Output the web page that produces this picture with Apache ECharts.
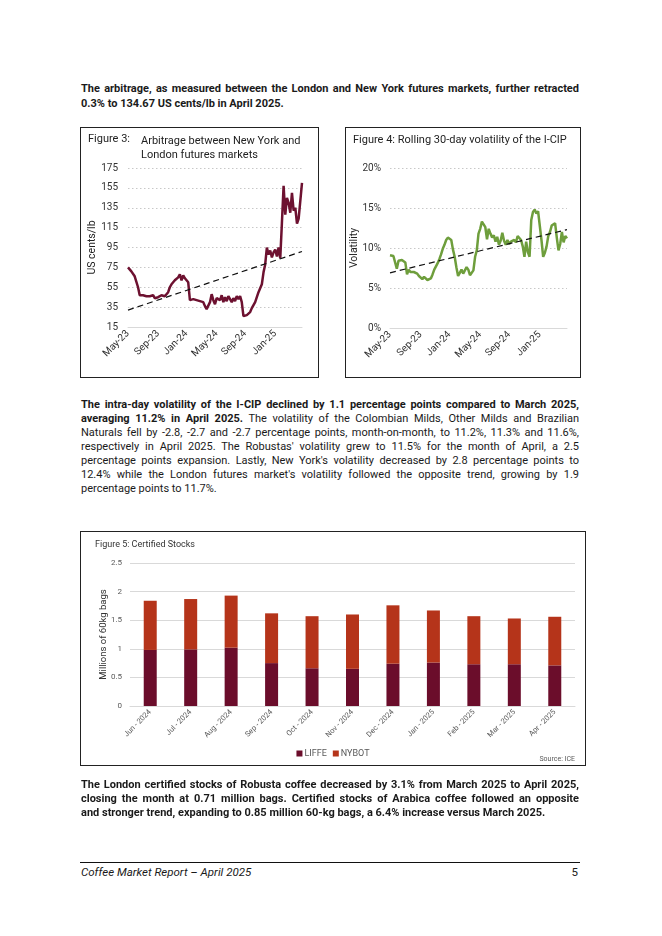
<!DOCTYPE html>
<html><head><meta charset="utf-8">
<script src="https://cdn.jsdelivr.net/npm/echarts@6/dist/echarts.min.js"></script>
<style>
html,body{margin:0;padding:0;background:#fff;}
#page{position:relative;width:662px;height:936px;overflow:hidden;font-family:Roboto,'Noto Sans',sans-serif;color:#1a1a1a;}
.para{position:absolute;left:81px;width:498px;font-size:11px;}
.ln{display:block;white-space:pre;}
.ln > span{display:inline-block;transform-origin:0 50%;}
b{font-weight:700}
.box{position:absolute;border:1px solid #222;box-sizing:border-box;pointer-events:none;}
.chart{position:absolute;}
#footrule{position:absolute;left:80px;top:862px;width:500px;height:1px;background:#111;}
#foot{position:absolute;left:81px;top:865px;width:494px;font-size:11.5px;font-style:italic;line-height:14px;}
#pnum{position:absolute;right:84px;top:865px;font-size:11.5px;line-height:14px;}
</style></head>
<body><div id="page">
<div class="para" style="top:81px;line-height:15px;">
<div class="ln j"><span><b>The arbitrage, as measured between the London and New York futures markets, further retracted</b></span></div>
<div class="ln"><span><b>0.3% to 134.67 US cents/lb in April 2025.</b></span></div>
</div>

<div class="chart" id="fig3" style="left:80px;top:127px;width:239px;height:251px;"></div>
<div class="box" style="left:80px;top:127px;width:239px;height:251px;"></div>
<div class="chart" id="fig4" style="left:345px;top:127px;width:236px;height:251px;"></div>
<div class="box" style="left:345px;top:127px;width:236px;height:251px;"></div>

<div class="para" style="top:398px;line-height:14px;">
<div class="ln j"><span><b>The intra-day volatility of the I-CIP declined by 1.1 percentage points compared to March 2025,</b></span></div>
<div class="ln j"><span><b>averaging 11.2% in April 2025.</b> The volatility of the Colombian Milds, Other Milds and Brazilian</span></div>
<div class="ln j"><span>Naturals fell by -2.8, -2.7 and -2.7 percentage points, month-on-month, to 11.2%, 11.3% and 11.6%,</span></div>
<div class="ln j"><span>respectively in April 2025. The Robustas' volatility grew to 11.5% for the month of April, a 2.5</span></div>
<div class="ln j"><span>percentage points expansion. Lastly, New York's volatility decreased by 2.8 percentage points to</span></div>
<div class="ln j"><span>12.4% while the London futures market's volatility followed the opposite trend, growing by 1.9</span></div>
<div class="ln"><span>percentage points to 11.7%.</span></div>
</div>

<div class="chart" id="fig5" style="left:80px;top:531px;width:506px;height:235px;"></div>
<div class="box" style="left:80px;top:531px;width:506px;height:235px;"></div>

<div class="para" style="top:778px;line-height:14px;">
<div class="ln j"><span><b>The London certified stocks of Robusta coffee decreased by 3.1% from March 2025 to April 2025,</b></span></div>
<div class="ln j"><span><b>closing the month at 0.71 million bags. Certified stocks of Arabica coffee followed an opposite</b></span></div>
<div class="ln"><span><b>and stronger trend, expanding to 0.85 million 60-kg bags, a 6.4% increase versus March 2025.</b></span></div>
</div>

<div id="footrule"></div>
<div id="foot">Coffee Market Report – April 2025</div>
<div id="pnum">5</div>
</div>

<script>
// ---------- Figure 3: arbitrage (US cents/lb), weekly readings May-2023 .. Apr-2025 ----------
const arbitrage = [
  75, 74, 71, 69, 66,        // May-23
  64, 55, 47, 46,            // Jun
  47, 45, 46, 44, 46,        // Jul
  45, 47, 44, 46,            // Aug
  45, 44, 47, 45,            // Sep
  46, 44, 50, 55, 58,        // Oct
  56, 62, 60, 65,            // Nov
  68, 62, 67, 64,            // Dec
  66, 60, 42, 44, 43,        // Jan-24
  45, 42, 44, 41,            // Feb
  43, 40, 36, 33,            // Mar
  34, 40, 48, 42, 38,        // Apr
  44, 46, 42, 47,            // May
  40, 45, 41, 46,            // Jun
  43, 40, 44, 41, 46,        // Jul
  43, 46, 40, 26,            // Aug
  24, 27, 25, 30, 34,        // Sep
  37, 40, 45, 50,            // Oct
  52, 58, 70, 78,            // Nov
  95, 88, 92, 85, 90,        // Dec
  93, 86, 95, 84,            // Jan-25
  120, 157, 128, 145,        // Feb
  140, 130, 150, 132, 135,   // Mar
  119, 124, 126, 160         // Apr
];
const arbitrageTrend = [32, 91];   // dashed trend line: start, end

// ---------- Figure 4: rolling 30-day volatility (%) ----------
const volatility = [
  9.1, 8.9, 9.0, 8.8, 7.4,        // May-23
  8.4, 8.6, 8.5, 8.6,             // Jun
  8.2, 6.7, 7.3, 7.0, 7.2,        // Jul
  7.0, 7.2, 6.8, 6.5,             // Aug
  6.3, 6.1, 6.4, 6.2,             // Sep
  6.0, 5.8, 6.2, 6.7, 7.3,        // Oct
  7.5, 8.1, 8.6, 9.2,             // Nov
  9.9, 10.4, 11.0, 11.3,          // Dec
  11.4, 11.0, 9.8, 8.9, 7.6,      // Jan-24
  6.5, 6.9, 7.3, 6.8,             // Feb
  7.0, 7.6, 7.3, 6.6,             // Mar
  6.5, 7.2, 8.9, 9.7, 11.8,       // Apr
  12.4, 13.3, 13.1, 12.6,         // May
  11.1, 12.4, 11.8, 11.3,         // Jun
  11.6, 10.8, 11.4, 10.4, 10.9,   // Jul
  11.9, 10.9, 10.4, 11.0,         // Aug
  10.5, 10.8, 10.6, 11.0, 10.7,   // Sep
  11.5, 11.3, 11.0, 10.2,         // Oct
  8.9, 10.8, 9.5, 8.9,            // Nov
  13.5, 14.5, 14.8, 14.3, 14.6,   // Dec
  14.5, 11.0, 8.9, 9.4,           // Jan-25
  10.2, 11.5, 12.0, 12.8,         // Feb
  13.0, 13.1, 11.3, 9.7, 10.5,    // Mar
  12.0, 10.7, 11.5, 11.2          // Apr
];
const volatilityTrend = [6.9, 12.3];

// x categories: weekly dates starting 2023-05-01
const weekStart = [2023, 4, 1];
const weeks = arbitrage.map((_, i) => new Date(Date.UTC(weekStart[0], weekStart[1], weekStart[2] + 7 * i)).toISOString().slice(0, 10));
const tickDates  = ['2023-05-01', '2023-09-04', '2024-01-01', '2024-05-06', '2024-09-02', '2025-01-06'];
const tickLabels = ['May-23', 'Sep-23', 'Jan-24', 'May-24', 'Sep-24', 'Jan-25'];

// ---------- Figure 5: certified stocks (million 60kg bags) ----------
const stockMonths = ['Jun - 2024', 'Jul - 2024', 'Aug - 2024', 'Sep - 2024', 'Oct - 2024', 'Nov - 2024',
                     'Dec - 2024', 'Jan - 2025', 'Feb - 2025', 'Mar - 2025', 'Apr - 2025'];
const liffe = [0.98, 0.99, 1.02, 0.75, 0.66, 0.65, 0.74, 0.76, 0.73, 0.73, 0.71];
const nybot = [0.86, 0.88, 0.91, 0.87, 0.91, 0.95, 1.02, 0.91, 0.84, 0.80, 0.85];

// ---------- text line justification ----------
document.querySelectorAll('.para').forEach(p => {
  const target = p.getBoundingClientRect().width;
  p.querySelectorAll('.ln').forEach(el => {
    const span = el.firstElementChild;
    const w = span.getBoundingClientRect().width;
    if (w > target) {
      span.style.transform = 'scaleX(' + (target / w) + ')';
    } else if (el.classList.contains('j')) {
      const spaces = (span.textContent.match(/ /g) || []).length;
      if (spaces) span.style.wordSpacing = ((target - w) / spaces) + 'px';
    }
  });
});

const FONT = 'Roboto, "Noto Sans", sans-serif';
const lastIdx = weeks.length - 1;

function timeChart(el, opts) {
  const c = echarts.init(document.getElementById(el), null, {renderer: 'canvas'});
  c.setOption({
    animation: false,
    textStyle: {fontFamily: FONT},
    title: opts.title,
    grid: Object.assign({outerBoundsMode: 'none', containLabel: false}, opts.grid),
    xAxis: {
      type: 'category', data: weeks, boundaryGap: false,
      axisLine: {lineStyle: {color: '#d9d9d9', width: 1}},
      axisTick: {show: false},
      axisLabel: {
        interval: (i, v) => tickDates.includes(v),
        formatter: v => tickLabels[tickDates.indexOf(v)],
        rotate: 45, fontSize: 10, color: '#333', margin: 5, fontFamily: FONT
      },
      splitLine: {show: false}
    },
    yAxis: Object.assign({
      type: 'value',
      nameLocation: 'middle',
      nameMoveOverlap: false,
      nameTextStyle: {fontSize: 10.5, color: '#222', fontFamily: FONT},
      axisLine: {show: false}, axisTick: {show: false},
      splitLine: {lineStyle: {type: [1.5, 2.5], color: '#c8c8c8'}}
    }, opts.yAxis),
    series: [
      {type: 'line', data: opts.data, showSymbol: false, symbol: 'none',
       lineStyle: {color: opts.color, width: 2.5}, z: 2},
      {type: 'line', data: [[weeks[0], opts.trend[0]], [weeks[lastIdx], opts.trend[1]]],
       showSymbol: false, symbol: 'none',
       lineStyle: {color: '#111', width: 1.2, type: [6, 4]}, z: 3}
    ]
  });
}

timeChart('fig3', {
  title: [
    {text: 'Figure 3:', left: 8, top: 7, padding: 0, textStyle: {fontSize: 11, fontWeight: 'normal', color: '#222', fontFamily: FONT}},
    {text: 'Arbitrage between New York and\nLondon futures markets', left: 61, top: 7, padding: 0,
     textStyle: {fontSize: 11, fontWeight: 'normal', color: '#222', lineHeight: 14, fontFamily: FONT}}
  ],
  grid: {left: 48, right: 17, top: 41, bottom: 51},
  yAxis: {min: 15, max: 175, interval: 20, name: 'US cents/lb', nameGap: 30,
          axisLabel: {fontSize: 10, color: '#333', margin: 10, fontFamily: FONT}},
  data: arbitrage, trend: arbitrageTrend, color: '#6d1130'
});

timeChart('fig4', {
  title: [
    {text: 'Figure 4: Rolling 30-day volatility of the I-CIP', left: 8, top: 8, padding: 0,
     textStyle: {fontSize: 11, fontWeight: 'normal', color: '#222', fontFamily: FONT}}
  ],
  grid: {left: 45, right: 14, top: 41, bottom: 50},
  yAxis: {min: 0, max: 20, interval: 5, name: 'Volatility', nameGap: 30,
          axisLabel: {fontSize: 10, color: '#333', margin: 9, formatter: '{value}%', fontFamily: FONT}},
  data: volatility, trend: volatilityTrend, color: '#6e9e3c'
});

const c5 = echarts.init(document.getElementById('fig5'));
c5.setOption({
  animation: false,
  textStyle: {fontFamily: FONT},
  title: {text: 'Figure 5: Certified Stocks', left: 15, top: 9, padding: 0,
          textStyle: {fontSize: 9, fontWeight: 'normal', color: '#333', fontFamily: FONT}},
  grid: {left: 50, right: 11, top: 32, bottom: 60, outerBoundsMode: 'none', containLabel: false},
  legend: {data: ['LIFFE', 'NYBOT'], bottom: 8, left: 'center', icon: 'rect', padding: 0,
           itemWidth: 6, itemHeight: 6, itemGap: 6,
           textStyle: {fontSize: 9, color: '#595959', fontFamily: FONT, padding: [0, 0, 0, -3]}},
  xAxis: {type: 'category', data: stockMonths,
          axisLine: {lineStyle: {color: '#d9d9d9'}}, axisTick: {show: false},
          axisLabel: {interval: 0, rotate: 45, fontSize: 7.5, color: '#595959', margin: 5, fontFamily: FONT}},
  yAxis: {type: 'value', min: 0, max: 2.5, interval: 0.5,
          name: 'Millions of 60kg bags', nameLocation: 'middle', nameGap: 21, nameMoveOverlap: false,
          nameTextStyle: {fontSize: 9.5, color: '#333', fontFamily: FONT},
          axisLine: {show: false}, axisTick: {show: false},
          axisLabel: {fontSize: 8, color: '#595959', margin: 8, fontFamily: FONT},
          splitLine: {lineStyle: {color: '#d9d9d9'}}},
  series: [
    {name: 'LIFFE', type: 'bar', stack: 'stocks', data: liffe, barWidth: 13, itemStyle: {color: '#6b0d2b'}},
    {name: 'NYBOT', type: 'bar', stack: 'stocks', data: nybot, barWidth: 13, itemStyle: {color: '#b5341a'}}
  ],
  graphic: [{type: 'text', right: 11, bottom: 3,
             style: {text: 'Source: ICE', fontSize: 7, fill: '#595959', fontFamily: FONT}}]
});
</script>
</body></html>
